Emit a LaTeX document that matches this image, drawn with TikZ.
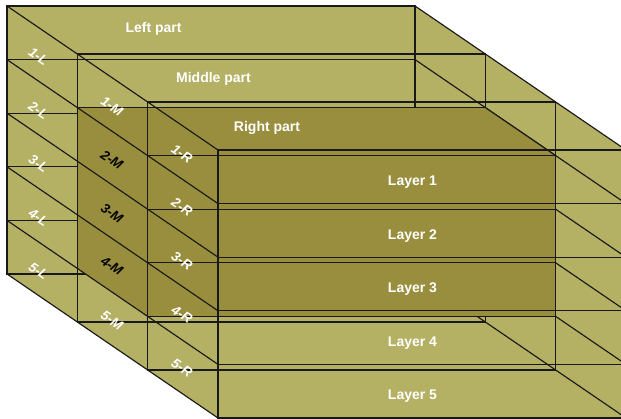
\documentclass[tikz,border=0pt]{standalone}
\usepackage{fontspec}
\setmainfont{Liberation Sans}
\definecolor{oliveL}{RGB}{180,176,100}
\definecolor{oliveD}{RGB}{153,142,62}
\begin{document}
\begin{tikzpicture}[x=1pt,y=-1pt,
  ln/.style={draw=black!90,line width=1.15pt,line join=miter},
  bigl/.style={text=white,font=\fontsize{14}{16}\selectfont\bfseries,inner sep=0pt},
  sidel/.style={font=\fontsize{13.5}{16}\selectfont\bfseries\itshape,inner sep=0pt,rotate=-34.3},
  wl/.style={sidel,text=white},
  bl/.style={sidel,text=black}]
\useasboundingbox (0,0) rectangle (621,419);
\clip (0,0) rectangle (621,419);
% grid of corner points: a = left side, b = right side; k = depth, j = layer boundary
\foreach \k in {0,1,2,3}{
  \foreach \j in {0,...,5}{
    \coordinate (a\k\j) at ({7+\k*70.333},{6+\k*48+\j*53.6});
    \coordinate (b\k\j) at ({415+\k*70.333},{6+\k*48+\j*53.6});
  }
}
% light body
\fill[oliveL] (a00) -- (b00) -- (b30) -- (b35) -- (a35) -- (a05) -- cycle;
% lines behind the dark block
\draw[ln] (a00) rectangle (b05);
\draw[ln] (a10) rectangle (b15);
\foreach \j in {1,...,4}{
  \draw[ln] (a0\j) -- (b0\j);
  \draw[ln] (a1\j) -- (b1\j);
}
\foreach \j in {0,...,5}{
  \draw[ln] (b0\j) -- (b2\j);
}
% dark block (middle part, layers 2-4)
\fill[oliveD] (a11) -- (b11) -- (b21) -- (b24) -- (a24) -- (a14) -- cycle;
% lines in front
\foreach \j in {0,...,5}{
  \draw[ln] (a0\j) -- (a3\j);
  \draw[ln] (b2\j) -- (b3\j);
}
\draw[ln] (a00) -- (a05);
\draw[ln] (a10) -- (a15);
\draw[ln] (a11) -- (b11);
\draw[ln] (b11) -- (b21);
\draw[ln] (a20) rectangle (b25);
\draw[ln] (a30) rectangle (b35);
\foreach \j in {1,...,4}{
  \draw[ln] (a2\j) -- (b2\j);
  \draw[ln] (a3\j) -- (b3\j);
}
% part labels
\node[bigl] (tl) at (153.5,29) {Left part};
\node[bigl] (tm) at (213.5,79) {Middle part};
\node[bigl] (tr) at (267,127.5) {Right part};
% layer labels
\foreach \j/\y in {1/182,2/235.6,3/289.2,4/342.8,5/396.4}{
  \node[bigl] (lay\j) at (412.5,\y) {Layer \j};
}
% side labels
\foreach \j in {1,...,5}{
  \node[wl] (sl\j) at ({38.5},{6+\j*53.6-3}) {\j-L};
  \node[wl] (sr\j) at ({182},{102+\j*53.6-2}) {\j-R};
}
\node[wl] (sm1) at (112,{54+53.6-1.5}) {1-M};
\node[bl] (sm2) at (112,{54+2*53.6-1.5}) {2-M};
\node[bl] (sm3) at (112,{54+3*53.6-1.5}) {3-M};
\node[bl] (sm4) at (112,{54+4*53.6-2.5}) {4-M};
\node[wl] (sm5) at (112,{54+5*53.6-1.5}) {5-M};
\end{tikzpicture}
\end{document}
